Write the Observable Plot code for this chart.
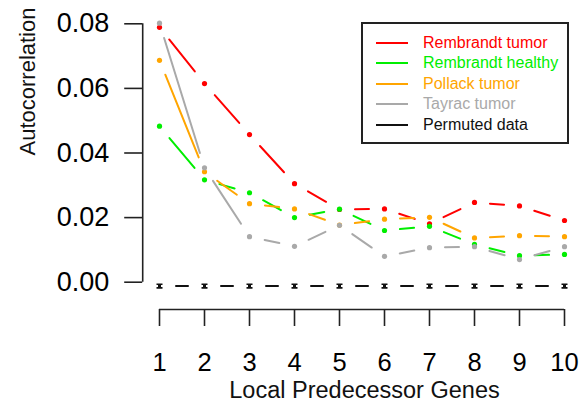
<!DOCTYPE html>
<html>
<head>
<meta charset="utf-8">
<script src="https://cdn.jsdelivr.net/npm/d3@7"></script>
<script src="https://cdn.jsdelivr.net/npm/@observablehq/plot@0.6"></script>
<style>
  html, body { margin: 0; padding: 0; background: #fff; }
  #wrap { position: relative; width: 584px; height: 410px; font-family: "Liberation Sans", Arial, Helvetica, sans-serif; }
  #legend { position: absolute; left: 361px; top: 22px; width: 204px; height: 118px; border: 2px solid #222; background: #fff; }
  .row { position: absolute; left: 0; height: 20px; display: flex; align-items: center; font-size: 16px; }
  .sw { display: inline-block; width: 32px; height: 2px; margin-left: 13px; margin-right: 15px; }
</style>
</head>
<body>
<div id="wrap"></div>
<script>
const lags = [1, 2, 3, 4, 5, 6, 7, 8, 9, 10];
const rembrandtTumor   = [0.0789, 0.0615, 0.0457, 0.0305, 0.0225, 0.0227, 0.0181, 0.0247, 0.0236, 0.0191];
const rembrandtHealthy = [0.0483, 0.0317, 0.0277, 0.0200, 0.0226, 0.0160, 0.0173, 0.0117, 0.0082, 0.0086];
const pollackTumor     = [0.0687, 0.0342, 0.0243, 0.0227, 0.0177, 0.0195, 0.0201, 0.0137, 0.0144, 0.0141];
const tayracTumor      = [0.0802, 0.0354, 0.0141, 0.0111, 0.0176, 0.0080, 0.0107, 0.0110, 0.0070, 0.0110];
const permuted         = [-0.0012, -0.0012, -0.0012, -0.0012, -0.0012, -0.0012, -0.0012, -0.0012, -0.0012, -0.0012];
const seriesNames  = ["Rembrandt tumor", "Rembrandt healthy", "Pollack tumor", "Tayrac tumor", "Permuted data"];
const seriesColors = ["#ff0000", "#00ee00", "#ffa500", "#a9a9a9", "#111111"];
const yTicks = [0, 0.02, 0.04, 0.06, 0.08];

const allSeries = [rembrandtTumor, rembrandtHealthy, pollackTumor, tayracTumor];
const points = [];
const segs = [];
allSeries.forEach((vals, s) => {
  vals.forEach((v, i) => {
    points.push({series: seriesNames[s], x: lags[i], y: v});
    if (i < vals.length - 1) segs.push({series: seriesNames[s], x1: lags[i], y1: v, x2: lags[i + 1], y2: vals[i + 1]});
  });
});
const permPts = lags.map((x, i) => ({x, y: permuted[i]}));
const permSegs = lags.slice(0, -1).map((x, i) => ({x1: x, y1: permuted[i], x2: lags[i + 1], y2: permuted[i + 1]}));

// I-beam symbol for the permuted-data error bars
const ibeam = {
  draw(ctx, size) {
    const w = 3.0, h = 2.7, s = 1.5, f = 1.7;
    ctx.moveTo(-w, -h); ctx.lineTo(w, -h); ctx.lineTo(w, -h + f); ctx.lineTo(s, -h + f);
    ctx.lineTo(s, h - f); ctx.lineTo(w, h - f); ctx.lineTo(w, h); ctx.lineTo(-w, h);
    ctx.lineTo(-w, h - f); ctx.lineTo(-s, h - f); ctx.lineTo(-s, -h + f); ctx.lineTo(-w, -h + f);
    ctx.closePath();
  }
};

const colorScale = {domain: seriesNames, range: seriesColors};

const chart = Plot.plot({
  width: 584,
  height: 410,
  marginLeft: 159,
  marginRight: 20,
  marginTop: 23.3,
  marginBottom: 128.3,
  style: {fontFamily: "Liberation Sans, Arial, Helvetica, sans-serif", color: "#000", background: "#fff", overflow: "visible"},
  x: {domain: [1, 10]},
  y: {domain: [0, 0.08]},
  color: colorScale,
  marks: [
    Plot.arrow(segs, {x1: "x1", y1: "y1", x2: "x2", y2: "y2", stroke: "series", strokeWidth: 2, headLength: 0, insetStart: 15.5, insetEnd: 15.5}),
    Plot.dot(points, {x: "x", y: "y", fill: "series", r: 2.6, stroke: "none"}),
    Plot.arrow(permSegs, {x1: "x1", y1: "y1", x2: "x2", y2: "y2", stroke: "#111", strokeWidth: 2, headLength: 0, insetStart: 16.5, insetEnd: 16.5}),
    Plot.dot(permPts, {x: "x", y: "y", symbol: ibeam, fill: "#111", r: 3, stroke: "none"}),
    // y axis (detached, R style)
    Plot.ruleX([lags[0]], {y1: yTicks[0], y2: yTicks[yTicks.length - 1], dx: -16.8, stroke: "#222", strokeWidth: 1.6}),
    Plot.axisY({ticks: yTicks, tickFormat: d3.format(".2f"), tickSize: 18, tickPadding: 15.5, dx: -16.8, fontSize: 27, strokeWidth: 1.6, stroke: "#222", label: null}),
    // x axis
    Plot.ruleY([yTicks[0]], {x1: lags[0], x2: lags[lags.length - 1], dy: 27.3, stroke: "#222", strokeWidth: 1.6}),
    Plot.axisX({ticks: lags, tickFormat: d3.format("d"), tickSize: 17, tickPadding: 26, dy: 27.3, fontSize: 25.5, strokeWidth: 1.6, stroke: "#222", label: null}),
    Plot.text(["Local Predecessor Genes"], {frameAnchor: "bottom", dy: 115.5, dx: 2.5, fontSize: 23.5, fill: "#111", text: d => d}),
    Plot.text(["Autocorrelation"], {frameAnchor: "left", dx: -132, dy: 2.5, rotate: -90, fontSize: 22, fill: "#111", text: d => d})
  ]
});

const wrap = document.getElementById("wrap");
wrap.appendChild(chart);

const legend = document.createElement("div");
legend.id = "legend";
seriesNames.forEach((name, i) => {
  const row = document.createElement("div");
  row.className = "row";
  row.style.top = (10.7 + i * 20.5 - 2) + "px";
  const sw = document.createElement("span");
  sw.className = "sw";
  sw.style.background = seriesColors[i];
  const tx = document.createElement("span");
  tx.textContent = name;
  tx.style.color = seriesColors[i];
  row.appendChild(sw);
  row.appendChild(tx);
  legend.appendChild(row);
});
wrap.appendChild(legend);
</script>
</body>
</html>
